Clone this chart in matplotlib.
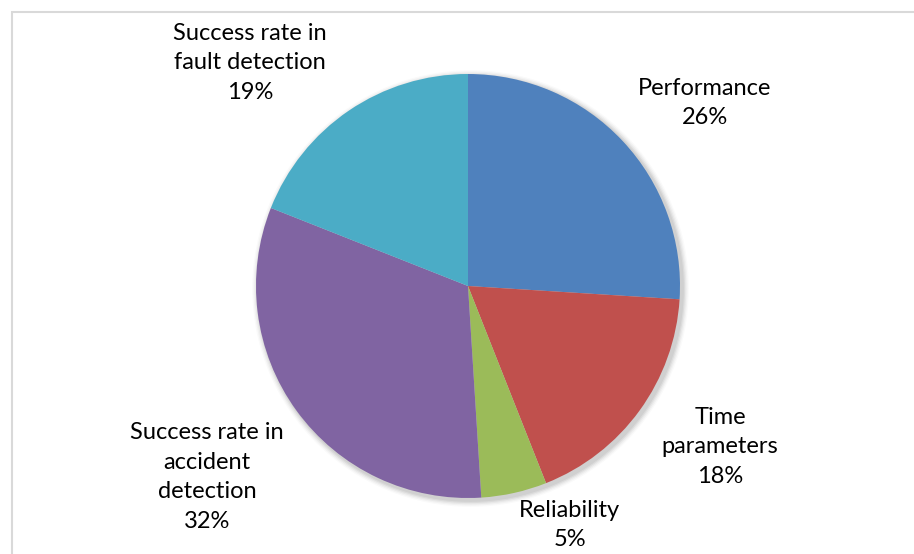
import matplotlib.pyplot as plt
from matplotlib.patches import Rectangle, Circle

categories = ['Performance', 'Time\nparameters', 'Reliability',
              'Success rate in\naccident\ndetection', 'Success rate in\nfault detection']
shares = [26, 18, 5, 32, 19]
colors = ['#4F81BD', '#C0504D', '#9BBB59', '#8064A2', '#4BACC6']

# label centres in pie-radius units (layout only)
label_pos = [(1.118, 0.863), (1.189, -0.759), (0.479, -1.127),
             (-1.231, -0.901), (-1.028, 1.052)]

fig = plt.figure(figsize=(9.14, 5.54), dpi=100)
fig.patch.set_facecolor('white')

# chart area border (only top and left edges fall inside the image)
fig.patches.append(Rectangle((12 / 914, -0.1), 1.2, 1 - 12 / 554 + 0.1,
                             transform=fig.transFigure, fill=False,
                             edgecolor='#D9D9D9', linewidth=1.5))

ax = fig.add_axes([256 / 914, 56 / 554, 424 / 914, 424 / 554])

# soft drop shadow under the pie
for i, a in enumerate([0.05, 0.05, 0.04, 0.03, 0.02]):
    ax.add_patch(Circle((0.012, -0.012), 1.0 + 0.006 * (i + 1),
                        facecolor='black', alpha=a, edgecolor='none',
                        zorder=0, clip_on=False))

wedges, _ = ax.pie(shares, colors=colors, startangle=90, counterclock=False,
                   radius=1.0, wedgeprops=dict(edgecolor='none', linewidth=0))
for w in wedges:
    w.set_zorder(2)
    w.set_clip_on(False)

ax.set_aspect('equal')
ax.set_xlim(-1, 1)
ax.set_ylim(-1, 1)
ax.axis('off')

for name, val, (x, y) in zip(categories, shares, label_pos):
    ax.text(x, y, f'{name}\n{val}%', ha='center', va='center',
            fontsize=17, family='Lato', linespacing=1.5, color='black',
            clip_on=False)

fig.savefig('out.png', dpi=100)
